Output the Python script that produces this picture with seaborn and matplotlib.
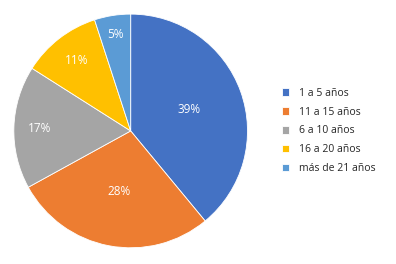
import matplotlib
matplotlib.use("Agg")
import matplotlib.pyplot as plt
import seaborn as sns

# datos
labels = ['1 a 5 años', '11 a 15 años', '6 a 10 años', '16 a 20 años', 'más de 21 años']
values = [39, 28, 17, 11, 5]
colors = ['#4472C4', '#ED7D31', '#A5A5A5', '#FFC000', '#5B9BD5']
label_dist = [0.53, 0.53, 0.78, 0.76, 0.84]

sns.set_style("white")
plt.rcParams['font.family'] = ['Open Sans', 'DejaVu Sans']

fig = plt.figure(figsize=(3.96, 2.64), dpi=100)
ax = fig.add_axes([0.032, 0.057, 0.596, 0.894])

wedges, texts, autotexts = ax.pie(values, colors=colors, startangle=90, counterclock=False,
                                  autopct='%1.0f%%', pctdistance=0.6,
                                  wedgeprops={'linewidth': 0.6, 'edgecolor': 'white'},
                                  textprops={'color': 'white', 'fontsize': 8.5})
for t, d in zip(autotexts, label_dist):
    x, y = t.get_position()
    s = d / 0.6
    t.set_position((x * s, y * s))
ax.set_xlim(-1.01, 1.01)
ax.set_ylim(-1.01, 1.01)

ax.legend(wedges, labels, loc='center left', bbox_to_anchor=(1.1, 0.5), frameon=False,
          fontsize=7.5, handlelength=0.75, handleheight=0.75, labelspacing=0.75,
          handletextpad=0.9)

fig.savefig('out.png', dpi=100)
